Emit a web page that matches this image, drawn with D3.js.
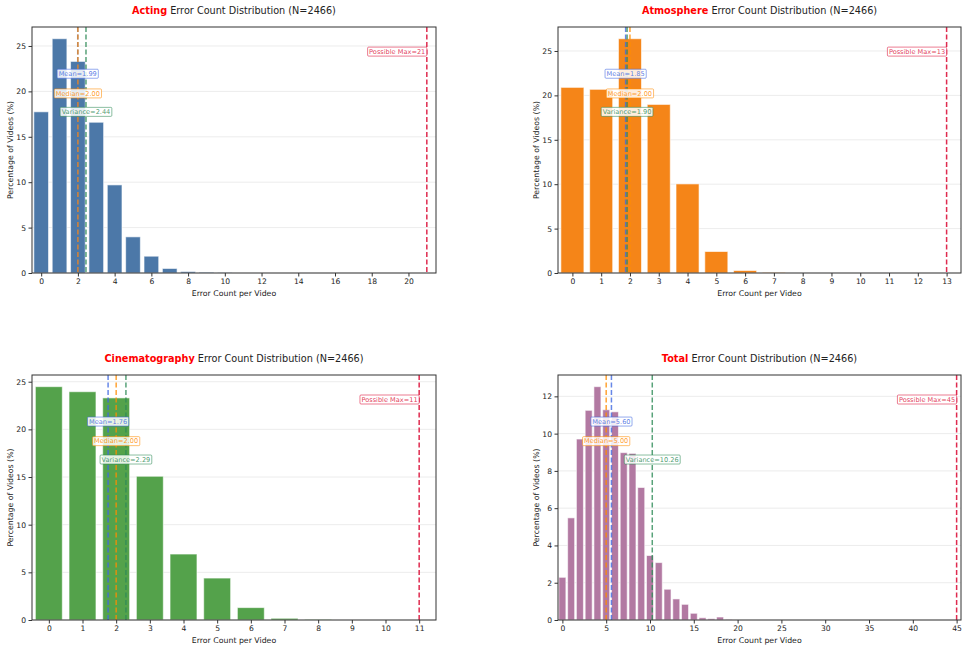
<!DOCTYPE html>
<html>
<head>
<meta charset="utf-8">
<script src="https://cdn.jsdelivr.net/npm/d3@7"></script>
<style>
  body { margin: 0; background: #fff; }
  svg { font-family: "DejaVu Sans", sans-serif; }
</style>
</head>
<body>
<div id="chart"></div>
<script>
// --- data (percentage of videos per error count) ---
var N = 2466

var actingCounts = [0, 1, 2, 3, 4, 5, 6, 7, 8, 9, 10]
var actingPct = [17.75, 25.8, 23.3, 16.6, 9.7, 3.98, 1.85, 0.5, 0.16, 0.08, 0.03]

var atmosphereCounts = [0, 1, 2, 3, 4, 5, 6, 7]
var atmospherePct = [20.9, 20.68, 26.38, 18.98, 10.03, 2.42, 0.28, 0.05]

var cinemaCounts = [0, 1, 2, 3, 4, 5, 6, 7, 8]
var cinemaPct = [24.48, 23.95, 23.3, 15.08, 6.92, 4.4, 1.3, 0.18, 0.05]

var totalCounts = [0, 1, 2, 3, 4, 5, 6, 7, 8, 9, 10, 11, 12, 13, 14, 15, 16, 17, 18, 19]
var totalPct = [2.29, 5.48, 9.71, 11.25, 12.52, 11.28, 11.17, 8.98, 8.94, 7.11,
                3.46, 3.08, 1.65, 1.13, 0.84, 0.36, 0.12, 0.07, 0.16, 0.02]

// summary stats per category: mean, median, variance, possible max
var categories = ['Acting', 'Atmosphere', 'Cinematography', 'Total']
var means = [1.99, 1.85, 1.76, 5.60]
var medians = [2.00, 2.00, 2.00, 5.00]
var variances = [2.44, 1.90, 2.29, 10.26]
var possibleMax = [21, 13, 11, 45]
var barColors = ['#4c78a8', '#f58518', '#54a24b', '#b279a2']
var xTickStep = [2, 1, 1, 5]
var yTicks = [[0, 5, 10, 15, 20, 25], [0, 5, 10, 15, 20, 25], [0, 5, 10, 15, 20, 25], [0, 2, 4, 6, 8, 10, 12]]

var panels = [
  {counts: actingCounts, pct: actingPct},
  {counts: atmosphereCounts, pct: atmospherePct},
  {counts: cinemaCounts, pct: cinemaPct},
  {counts: totalCounts, pct: totalPct}
]

var W = 969, H = 650
var svg = d3.select('#chart').append('svg')
  .attr('width', W)
  .attr('height', H)

// plot boxes (left, top, width, height)
var boxes = [
  {x: 32, y: 27, w: 404, h: 246},
  {x: 558, y: 27, w: 403, h: 246},
  {x: 32, y: 375, w: 404, h: 245},
  {x: 558, y: 375, w: 403, h: 245}
]

var statLines = [
  {key: 'mean', label: 'Mean', color: '#4169e1', frac: 0.81},
  {key: 'median', label: 'Median', color: '#ff8c00', frac: 0.73},
  {key: 'variance', label: 'Variance', color: '#2e8b57', frac: 0.655}
]

panels.forEach(function (p, i) {
  var b = boxes[i]
  var g = svg.append('g').attr('transform', 'translate(' + b.x + ',' + b.y + ')')

  var x = d3.scaleLinear()
    .domain([-0.5, possibleMax[i] + 0.5])
    .range([0, b.w])
  var y = d3.scaleLinear()
    .domain([0, d3.max(p.pct) * 1.05])
    .range([b.h, 0])

  // grid
  g.append('g')
    .selectAll('line')
    .data(yTicks[i])
    .enter()
    .append('line')
    .attr('x1', 0)
    .attr('x2', b.w)
    .attr('y1', function (d) { return y(d) })
    .attr('y2', function (d) { return y(d) })
    .attr('stroke', '#b0b0b0')
    .attr('stroke-opacity', 0.3)
    .attr('stroke-width', 0.8)

  // bars
  g.append('g')
    .selectAll('rect')
    .data(p.counts)
    .enter()
    .append('rect')
    .attr('x', function (d) { return x(d - 0.4) })
    .attr('width', x(0.4) - x(-0.4))
    .attr('y', function (d, j) { return y(p.pct[j]) })
    .attr('height', function (d, j) { return b.h - y(p.pct[j]) })
    .attr('fill', barColors[i])
    .attr('stroke', '#ffffff')
    .attr('stroke-opacity', 0.6)
    .attr('stroke-width', 1)

  // stat lines
  var vals = {mean: means[i], median: medians[i], variance: variances[i]}
  statLines.forEach(function (s) {
    g.append('line')
      .attr('x1', x(vals[s.key]))
      .attr('x2', x(vals[s.key]))
      .attr('y1', 0)
      .attr('y2', b.h)
      .attr('stroke', s.color)
      .attr('stroke-width', 1.5)
      .attr('stroke-opacity', 0.8)
      .attr('stroke-dasharray', '5,2.5')
  })
  g.append('line')
    .attr('x1', x(possibleMax[i]))
    .attr('x2', x(possibleMax[i]))
    .attr('y1', 0)
    .attr('y2', b.h)
    .attr('stroke', '#dc143c')
    .attr('stroke-width', 1.5)
    .attr('stroke-opacity', 0.9)
    .attr('stroke-dasharray', '5,2.5')

  // stat labels
  function addLabel (tx, ty, txt, color, anchor) {
    var lg = g.append('g')
    var t = lg.append('text')
      .attr('x', tx)
      .attr('y', ty)
      .attr('dy', '0.35em')
      .attr('text-anchor', anchor)
      .style('font-size', '6.6px')
      .attr('fill', color)
      .attr('fill-opacity', 0.85)
      .text(txt)
    var bb = t.node().getBBox()
    lg.insert('rect', 'text')
      .attr('x', bb.x - 1.5)
      .attr('y', ty - 4.5)
      .attr('width', bb.width + 3)
      .attr('height', 9)
      .attr('rx', 1)
      .attr('fill', '#ffffff')
      .attr('fill-opacity', 0.85)
      .attr('stroke', color)
      .attr('stroke-opacity', 0.7)
      .attr('stroke-width', 0.8)
  }
  statLines.forEach(function (s) {
    addLabel(x(vals[s.key]), y(y.domain()[1] * s.frac), s.label + '=' + vals[s.key].toFixed(2), s.color, 'middle')
  })
  addLabel(x(possibleMax[i]) - 1.5, y(y.domain()[1] * 0.9), 'Possible Max=' + possibleMax[i], '#dc143c', 'end')

  // axes
  var xt = d3.range(0, possibleMax[i] + 1, xTickStep[i])
  var xAxis = g.append('g')
    .attr('transform', 'translate(0,' + b.h + ')')
    .call(d3.axisBottom(x).tickValues(xt).tickSize(3.5).tickPadding(2.5).tickFormat(d3.format('d')))
  var yAxis = g.append('g')
    .call(d3.axisLeft(y).tickValues(yTicks[i]).tickSize(3.5).tickPadding(2.5).tickFormat(d3.format('d')))
  ;[xAxis, yAxis].forEach(function (a) {
    a.select('.domain').remove()
    a.selectAll('.tick line').attr('stroke', '#333')
    a.selectAll('.tick text').style('font-size', '7.6px').attr('fill', '#222').style('font-family', 'DejaVu Sans')
  })

  // frame
  g.append('rect')
    .attr('width', b.w)
    .attr('height', b.h)
    .attr('fill', 'none')
    .attr('stroke', '#333')
    .attr('stroke-width', 1)

  // axis labels
  g.append('text')
    .attr('x', b.w / 2)
    .attr('y', b.h + 22.5)
    .attr('text-anchor', 'middle')
    .style('font-size', '7.8px')
    .attr('fill', '#222')
    .text('Error Count per Video')
  g.append('text')
    .attr('text-anchor', 'middle')
    .attr('transform', 'translate(' + -19.5 + ',' + b.h / 2 + ')rotate(-90)')
    .style('font-size', '7.8px')
    .attr('fill', '#222')
    .text('Percentage of Videos (%)')

  // title
  var title = g.append('text')
    .attr('x', b.w / 2)
    .attr('y', -13)
    .attr('text-anchor', 'middle')
    .style('font-size', '9.7px')
  title.append('tspan')
    .attr('fill', '#ff0000')
    .attr('font-weight', 'bold')
    .text(categories[i])
  title.append('tspan')
    .attr('fill', '#222')
    .text(' Error Count Distribution (N=' + N + ')')
})
</script>
</body>
</html>
